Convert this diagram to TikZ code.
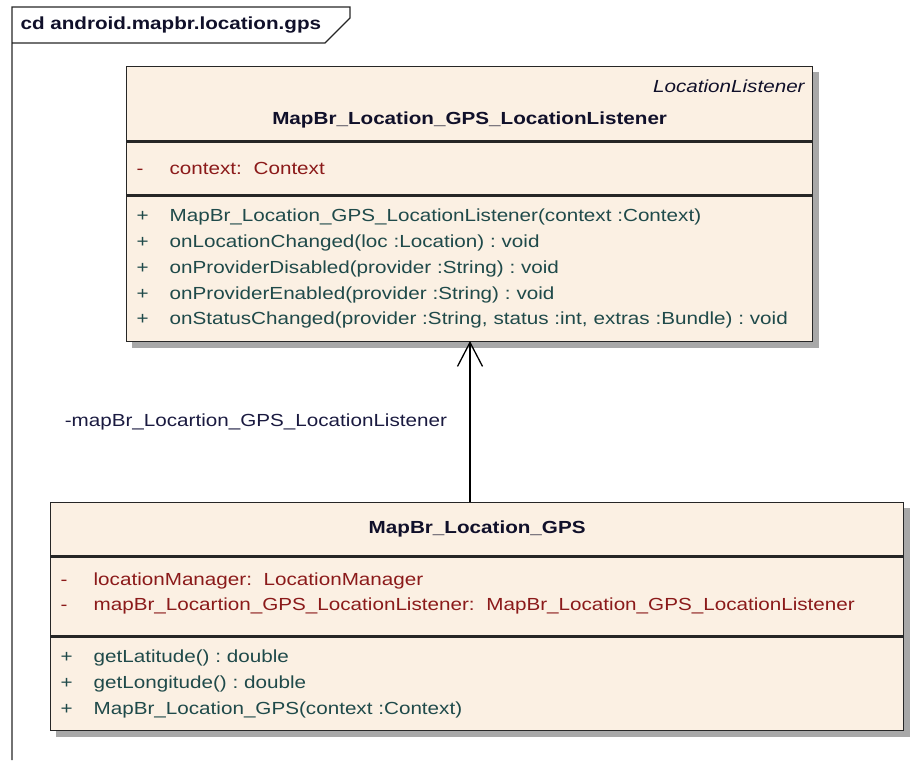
\documentclass[tikz,border=0pt]{standalone}
\usepackage{fontspec}
\setmainfont{Liberation Sans}[FakeStretch=1.18]
\usetikzlibrary{positioning}
\usetikzlibrary{backgrounds}
\usetikzlibrary{arrows.meta}
\definecolor{classfill}{HTML}{FBF0E3}
\definecolor{attrcol}{HTML}{8B1A1A}
\definecolor{opcol}{HTML}{1F4A4A}
\definecolor{shadegray}{HTML}{A8A8A8}
\definecolor{lblcol}{HTML}{1A1A40}
\definecolor{namecol}{HTML}{10102A}
\frenchspacing
\newcommand{\vis}[1]{\makebox[35pt][l]{\hspace{2pt}#1}}
\tikzset{compart/.style={rectangle,draw=black!85,line width=1.3pt,fill=classfill,anchor=north west,
    inner xsep=8pt,inner ysep=0pt,align=left,font=\fontsize{17.5}{25.75}\selectfont}}
\tikzset{classname/.style={compart,align=center,text=namecol}}
\tikzset{classshadow/.style={fill=shadegray}}
\tikzset{assoc/.style={draw=black,line width=1.3pt,-{Straight Barb[length=24pt,width=25pt]}}}

\begin{document}
\begin{tikzpicture}[x=1pt,y=-1pt]
  \useasboundingbox (0,0) rectangle (917,760);

  % package frame
  \draw[line width=1.3pt,black!85] (12,760) |- (350,7) -- (350,18) -- (325,43) -- (12,43);
  \node [anchor=west,text=namecol,font=\fontsize{17.5}{20}\selectfont\bfseries] (pkgname) at (17,25)
    {cd android.mapbr.location.gps};

  % listener class
  \node [classname,minimum width=686pt,text width=670pt,minimum height=74pt] (LLname) at (126,66)
  {
    \makebox[\linewidth][r]{\itshape LocationListener}\\[6pt]
    \bfseries MapBr\_Location\_GPS\_LocationListener
  };
  \node [compart,minimum width=686pt,text width=670pt,minimum height=53pt,text=attrcol] (LLattrs)
    at (LLname.south west)
  {
    \vis{-}context:~ Context
  };
  \node [compart,minimum width=686pt,text width=670pt,minimum height=145pt,text=opcol] (LLops)
    at (LLattrs.south west)
  {
    \vis{+}MapBr\_Location\_GPS\_LocationListener(context :Context)\\
    \vis{+}onLocationChanged(loc :Location) : void\\
    \vis{+}onProviderDisabled(provider :String) : void\\
    \vis{+}onProviderEnabled(provider :String) : void\\
    \vis{+}onStatusChanged(provider :String, status :int, extras :Bundle) : void
  };

  % gps class
  \node [classname,minimum width=853pt,text width=837pt,minimum height=53pt] (GPSname) at (50,502)
  {
    \bfseries MapBr\_Location\_GPS
  };
  \node [compart,minimum width=853pt,text width=837pt,minimum height=79pt,text=attrcol] (GPSattrs)
    at (GPSname.south west)
  {
    \vis{-}locationManager:~ LocationManager\\
    \vis{-}mapBr\_Locartion\_GPS\_LocationListener:~ MapBr\_Location\_GPS\_LocationListener\\[-16pt]
    \mbox{}
  };
  \node [compart,minimum width=853pt,text width=837pt,minimum height=93pt,text=opcol] (GPSops)
    at (GPSattrs.south west)
  {
    \vis{+}getLatitude() : double\\
    \vis{+}getLongitude() : double\\
    \vis{+}MapBr\_Location\_GPS(context :Context)
  };

  % shadows behind both classes
  \begin{scope}[on background layer]
    \fill [classshadow] ([shift={(6,6)}]LLname.north west) rectangle ([shift={(6,6)}]LLops.south east);
    \fill [classshadow] ([shift={(6,6)}]GPSname.north west) rectangle ([shift={(6,6)}]GPSops.south east);
  \end{scope}

  % association
  \coordinate (GPStop) at (470,502);
  \coordinate (LLbottom) at (470,341);
  \draw [assoc] (GPStop) -- (LLbottom)
    node [pos=0.5,left=19pt,text=lblcol,font=\fontsize{17.5}{20}\selectfont] (rolename)
    {-mapBr\_Locartion\_GPS\_LocationListener};
\end{tikzpicture}
\end{document}
